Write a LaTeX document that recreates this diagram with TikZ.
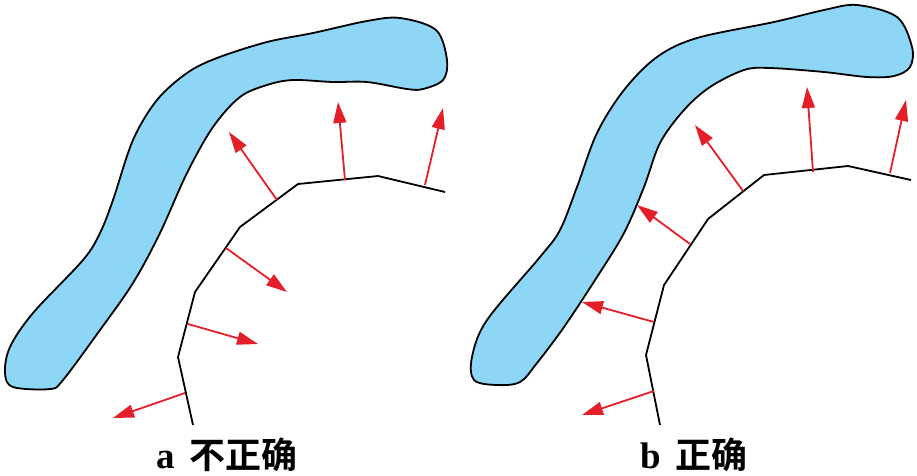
\documentclass[tikz,border=0pt]{standalone}
\usepackage{fontspec}
\newfontfamily\cjk{Noto Sans CJK SC}[BoldFont={Noto Sans CJK SC Bold}]
\newfontfamily\lat{Liberation Serif}
\usetikzlibrary{arrows.meta}
\definecolor{lake}{HTML}{8DD6F6}
\definecolor{arr}{HTML}{E51F2A}
\tikzset{
  lakeshape/.style={fill=lake, draw=black, line width=1.8pt, line join=round},
  edge/.style={draw=black, line width=1.8pt, line join=miter},
  vec/.style={draw=arr, line width=1.8pt, -{Triangle[length=21pt,width=13pt]}},
  lbl/.style={inner sep=0pt, anchor=base west},
}
\begin{document}
\begin{tikzpicture}[x=1pt,y=-1pt]
\useasboundingbox (0,0) rectangle (917,475);
% ---------- left panel ----------
\draw[lakeshape] plot[smooth cycle, tension=0.55] coordinates {
 (400,18) (436,30) (447,60) (443,80) (423,89) (407,89) (367,82) (333,82)
 (293,80) (267,85) (240,97) (213,127) (187,173) (160,233) (133,283) (100,330)
 (63,380) (50,389) (13,387) (5,373) (10,347) (33,313) (83,260) (100,233)
 (113,200) (133,140) (157,100) (187,73) (217,58) (267,42) (313,33) (367,21)};
\coordinate (a1) at (193,425);
\coordinate (a2) at (178,357);
\coordinate (a3) at (195,292);
\coordinate (a4) at (240,227);
\coordinate (a5) at (298,184);
\coordinate (a6) at (378,176);
\coordinate (a7) at (445,192);
\draw[edge] (a1) -- (a2) -- (a3) -- (a4) -- (a5) -- (a6) -- (a7);
\coordinate (as1) at (277,200); \coordinate (ae1) at (229,132);
\coordinate (as2) at (345,180); \coordinate (ae2) at (338,102);
\coordinate (as3) at (425,185); \coordinate (ae3) at (443,108);
\coordinate (as4) at (226,248); \coordinate (ae4) at (287,292);
\coordinate (as5) at (188,324); \coordinate (ae5) at (258,344);
\coordinate (as6) at (185,393); \coordinate (ae6) at (113,418);
\foreach \i in {1,...,6} \draw[vec] (as\i) -- (ae\i);
\node[lbl] (la) at (156,468) {\lat\bfseries\fontsize{37}{37}\selectfont a};
\node[lbl] (lc) at (189,468) {\cjk\bfseries\fontsize{36}{36}\selectfont 不正确};
% ---------- right panel ----------
\draw[lakeshape] plot[smooth cycle, tension=0.55] coordinates {
 (857,5) (897,17) (912,47) (910,67) (894,76) (867,77) (824,72) (770,68)
 (744,70) (710,87) (684,110) (660,143) (644,187) (624,233) (597,277) (564,327)
 (537,363) (520,382) (497,385) (474,380) (472,357) (487,320) (540,257) (560,230)
 (577,187) (597,133) (624,90) (657,57) (697,38) (774,22) (824,10)};
\coordinate (b1) at (660,425);
\coordinate (b2) at (646,355);
\coordinate (b3) at (664,285);
\coordinate (b4) at (708,219);
\coordinate (b5) at (764,175);
\coordinate (b6) at (848,166);
\coordinate (b7) at (911,180);
\draw[edge] (b1) -- (b2) -- (b3) -- (b4) -- (b5) -- (b6) -- (b7);
\coordinate (bs1) at (743,191); \coordinate (be1) at (695,125);
\coordinate (bs2) at (813,172); \coordinate (be2) at (807,87);
\coordinate (bs3) at (890,173); \coordinate (be3) at (906,100);
\coordinate (bs4) at (690,244); \coordinate (be4) at (637,205);
\coordinate (bs5) at (654,322); \coordinate (be5) at (582,302);
\coordinate (bs6) at (654,391); \coordinate (be6) at (582,415);
\foreach \i in {1,...,6} \draw[vec] (bs\i) -- (be\i);
\node[lbl] (ra) at (640,468) {\lat\bfseries\fontsize{37}{37}\selectfont b};
\node[lbl] (rc) at (675,468) {\cjk\bfseries\fontsize{36}{36}\selectfont 正确};
\end{tikzpicture}
\end{document}
